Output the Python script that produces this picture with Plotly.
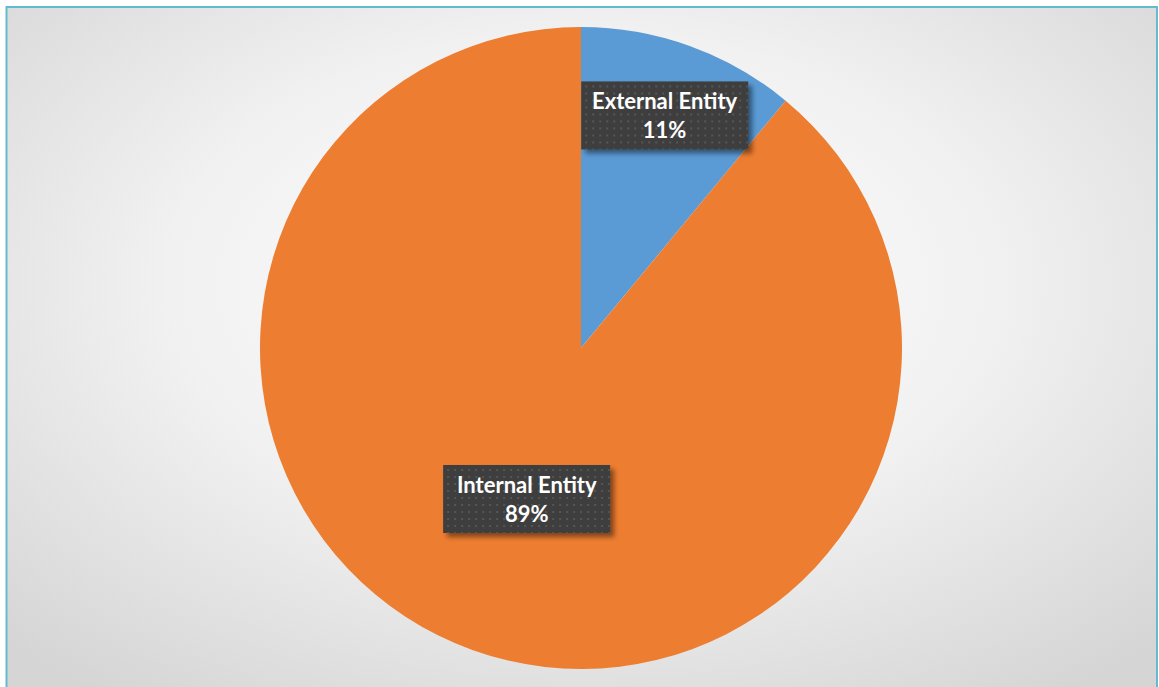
import math
import urllib.parse
import plotly.graph_objects as go

# Share of entities
labels = ["External Entity", "Internal Entity"]
values = [11, 89]
colors = ["#5B9BD5", "#ED7D31"]

W, H = 1159, 687
# pie placement in pixels
cx, cy, r = 581, 348, 321
# radial position of each data label as a fraction of the radius
label_radius = [0.77, 0.50]
# callout box size in pixels
BW, BH = 167, 68

fig = go.Figure(
    go.Pie(
        labels=labels,
        values=values,
        sort=False,
        direction="clockwise",
        rotation=0,
        marker=dict(colors=colors, line=dict(width=0)),
        textinfo="none",
        hoverinfo="label+percent",
        showlegend=False,
        domain=dict(
            x=[(cx - r) / W, (cx + r) / W],
            y=[(H - cy - r) / H, (H - cy + r) / H],
        ),
    )
)


def svg_uri(svg):
    return "data:image/svg+xml;charset=utf-8," + urllib.parse.quote(svg)


# soft radial background for the chart area
bg_svg = (
    "<svg xmlns='http://www.w3.org/2000/svg' width='1159' height='687' "
    "preserveAspectRatio='none'>"
    "<defs><radialGradient id='g' cx='50%' cy='40%' r='72%'>"
    "<stop offset='0' stop-color='#ffffff'/>"
    "<stop offset='0.5' stop-color='#f1f1f1'/>"
    "<stop offset='1' stop-color='#d5d5d5'/>"
    "</radialGradient></defs>"
    "<rect width='1159' height='687' fill='url(#g)'/></svg>"
)
fig.add_layout_image(
    dict(
        source=svg_uri(bg_svg),
        xref="paper", yref="paper",
        x=7 / W, y=1 - 7 / H,
        sizex=(1157 - 7) / W, sizey=1 + 7 / H,
        xanchor="left", yanchor="top",
        sizing="stretch",
        layer="below",
    )
)

# thin teal frame around the chart area
fig.add_shape(
    type="rect", xref="paper", yref="paper",
    x0=6.5 / W, x1=1157 / W, y0=-0.05, y1=1 - 7 / H,
    line=dict(color="#63BCCD", width=2),
    fillcolor="rgba(0,0,0,0)", layer="above",
)

# dotted dark callout box with a soft drop shadow
M = 12
box_svg = (
    f"<svg xmlns='http://www.w3.org/2000/svg' width='{BW + 2 * M}' height='{BH + 2 * M}'>"
    "<defs>"
    "<pattern id='d' width='7' height='7' patternUnits='userSpaceOnUse'>"
    "<rect width='7' height='7' fill='#3e3e3e'/>"
    "<rect x='2' y='2' width='2' height='2' fill='#555555'/>"
    "</pattern>"
    "<filter id='s' x='-20%' y='-20%' width='140%' height='140%'>"
    "<feGaussianBlur stdDeviation='2.5'/></filter>"
    "</defs>"
    f"<rect x='{M + 4}' y='{M + 4}' width='{BW}' height='{BH}' fill='rgba(0,0,0,0.45)' filter='url(#s)'/>"
    f"<rect x='{M}' y='{M}' width='{BW}' height='{BH}' fill='url(#d)'/>"
    "</svg>"
)
box_uri = svg_uri(box_svg)

# data labels placed at each slice's mid angle
total = sum(values)
start = 0.0
for lab, val, fr in zip(labels, values, label_radius):
    frac = val / total
    mid = (start + frac / 2) * 2 * math.pi
    start += frac
    px = cx + fr * r * math.sin(mid)
    py = cy - fr * r * math.cos(mid)
    fig.add_layout_image(
        dict(
            source=box_uri,
            xref="paper", yref="paper",
            x=(px - BW / 2 - M) / W, y=1 - (py - BH / 2 - M) / H,
            sizex=(BW + 2 * M) / W, sizey=(BH + 2 * M) / H,
            xanchor="left", yanchor="top",
            sizing="stretch",
            layer="above",
        )
    )
    fig.add_annotation(
        x=px / W, y=1 - py / H, xref="paper", yref="paper",
        xanchor="center", yanchor="middle",
        text=f"<b>{lab}<br>{round(100 * frac)}%</b>",
        showarrow=False, align="center",
        font=dict(family="Lato, 'Open Sans', sans-serif", size=22, color="#ffffff"),
    )

fig.update_layout(
    width=W, height=H,
    margin=dict(l=0, r=0, t=0, b=0),
    paper_bgcolor="#ffffff",
    plot_bgcolor="rgba(0,0,0,0)",
)

fig.write_html("out.html")
